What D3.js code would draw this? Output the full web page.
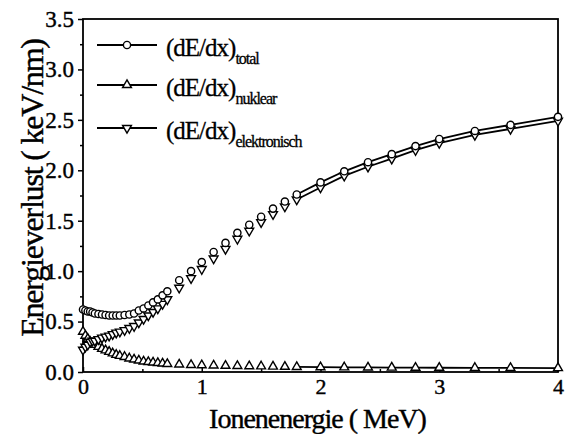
<!DOCTYPE html>
<html><head><meta charset="utf-8">
<script src="https://cdn.jsdelivr.net/npm/d3@7"></script>
<style>
body{margin:0;background:#fff;}
text{font-family:"Liberation Serif","Times New Roman",serif;fill:#000;}
</style></head>
<body><svg id="c" width="577" height="434"></svg>
<script>
// ---- data ----
const energy = [0.00,0.02,0.04,0.06,0.08,0.10,0.13,0.16,0.19,0.22,0.25,0.28,0.31,0.35,0.39,0.43,0.47,0.51,0.55,0.59,0.63,0.67,0.71,
  0.81,0.91,1.0,1.1,1.2,1.3,1.4,1.5,1.6,1.7,1.8,2.0,2.2,2.4,2.6,2.8,3.0,3.3,3.6,4.0];
const totalLoss = [0.62,0.61,0.60,0.60,0.59,0.58,0.575,0.57,0.565,0.56,0.56,0.56,0.56,0.565,0.57,0.58,0.61,0.63,0.66,0.69,0.72,0.76,0.80,
  0.91,1.00,1.09,1.19,1.28,1.38,1.46,1.54,1.62,1.69,1.76,1.88,1.99,2.08,2.16,2.24,2.31,2.39,2.45,2.53];
const nuclearLoss = [0.40,0.36,0.33,0.30,0.28,0.27,0.25,0.23,0.215,0.20,0.185,0.17,0.16,0.15,0.135,0.125,0.115,0.105,0.10,0.095,0.09,0.085,0.08,
  0.075,0.07,0.068,0.065,0.062,0.06,0.058,0.056,0.054,0.052,0.05,0.048,0.046,0.045,0.044,0.043,0.042,0.041,0.04,0.039];
const electronicLoss = [0.22,0.25,0.27,0.30,0.31,0.31,0.325,0.34,0.35,0.36,0.375,0.39,0.40,0.415,0.435,0.455,0.49,0.525,0.56,0.595,0.63,0.675,0.72,
  0.835,0.93,1.02,1.125,1.22,1.32,1.40,1.485,1.565,1.64,1.71,1.83,1.945,2.035,2.115,2.20,2.27,2.35,2.41,2.49];
const lineFrom = 1.8; // connecting lines drawn from this energy on
const xTicks = [0,1,2,3,4];
const xMinor = [0.5,1.5,2.5,3.5];
const yTicks = [0,0.5,1.0,1.5,2.0,2.5,3.0,3.5];
const yMinor = [0.25,0.75,1.25,1.75,2.25,2.75,3.25];
const legendNames = ["total","nuklear","elektronisch"];

// ---- layout ----
const L=83,R=558,T=19,B=372;
const svg=d3.select("#c");
const x=d3.scaleLinear().domain([0,4]).range([L,R]);
const y=d3.scaleLinear().domain([0,3.5]).range([B,T]);

// frame
svg.append("rect").attr("x",L).attr("y",T).attr("width",R-L).attr("height",B-T)
  .attr("fill","none").attr("stroke","#000").attr("stroke-width",1.8);

// axes
const gx=svg.append("g").attr("transform",`translate(0,${B})`)
  .call(d3.axisBottom(x).tickValues(xTicks).tickFormat(d3.format("d")).tickSize(-5).tickPadding(6));
const gxm=svg.append("g").attr("transform",`translate(0,${B})`)
  .call(d3.axisBottom(x).tickValues(xMinor).tickFormat("").tickSize(-3));
const gy=svg.append("g").attr("transform",`translate(${L},0)`)
  .call(d3.axisLeft(y).tickValues(yTicks).tickFormat(d3.format(".1f")).tickSize(5).tickPadding(4));
const gym=svg.append("g").attr("transform",`translate(${L},0)`)
  .call(d3.axisLeft(y).tickValues(yMinor).tickFormat("").tickSize(3));
[gx,gxm,gy,gym].forEach(g=>{
  g.select(".domain").remove();
  g.selectAll("line").attr("stroke","#000").attr("stroke-width",1.5);
  g.selectAll("text").attr("font-family","Liberation Serif").attr("font-size",23).attr("fill","#000")
    .attr("stroke","#000").attr("stroke-width",0.4);
});
gx.selectAll("text").attr("font-size",22).attr("dy","0.71em");

// axis titles
svg.append("text").attr("x",(L+R)/2-3).attr("y",428).attr("text-anchor","middle")
  .attr("font-size",28).attr("letter-spacing",-1).attr("stroke","#000").attr("stroke-width",0.4)
  .text("Ionenenergie ( MeV)");
svg.append("text").attr("transform",`translate(43,${188}) rotate(-90)`).attr("text-anchor","middle")
  .attr("font-size",32).attr("letter-spacing",-1.2).attr("stroke","#000").attr("stroke-width",0.4)
  .text("Energieverlust ( keV/nm)");

// series
const series=[
  {vals:nuclearLoss, sym:"up"},
  {vals:electronicLoss, sym:"down"},
  {vals:totalLoss, sym:"circle"}
];
const pts=s=>energy.map((e,i)=>({e,v:s.vals[i]}));
const line=d3.line().x(d=>x(d.e)).y(d=>y(d.v));
series.forEach(s=>{
  svg.append("path").datum(pts(s).filter(d=>d.e>=lineFrom-1e-9))
    .attr("d",line).attr("fill","none").attr("stroke","#000").attr("stroke-width",1.8);
});
const triUp=d3.symbol().type(d3.symbolTriangle).size(34)();
function drawMarker(g,sym,cx,cy){
  if(sym==="circle"){
    g.append("circle").attr("cx",cx).attr("cy",cy).attr("r",3.6)
      .attr("fill","#fff").attr("stroke","#000").attr("stroke-width",1.4);
  } else {
    g.append("path").attr("d",triUp)
      .attr("transform",`translate(${cx},${cy})`+(sym==="down"?" rotate(180)":""))
      .attr("fill","#fff").attr("stroke","#000").attr("stroke-width",1.4);
  }
}
series.forEach(s=>{
  const g=svg.append("g");
  pts(s).forEach(d=>drawMarker(g,s.sym,x(d.e),y(d.v)));
});

// legend
const legY=[45,85,128];
const legSym=["circle","up","down"];
legendNames.forEach((n,i)=>{
  svg.append("line").attr("x1",97).attr("x2",157).attr("y1",legY[i]).attr("y2",legY[i])
    .attr("stroke","#000").attr("stroke-width",1.8);
  drawMarker(svg,legSym[i],127,legY[i]);
  const t=svg.append("text").attr("x",166).attr("y",legY[i]+11).attr("font-size",25).attr("letter-spacing",-1)
    .attr("stroke","#000").attr("stroke-width",0.3);
  t.append("tspan").text("(dE/dx)");
  t.append("tspan").attr("dy",8).attr("font-size",16).attr("letter-spacing",-1).text(n);
});
</script></body></html>
